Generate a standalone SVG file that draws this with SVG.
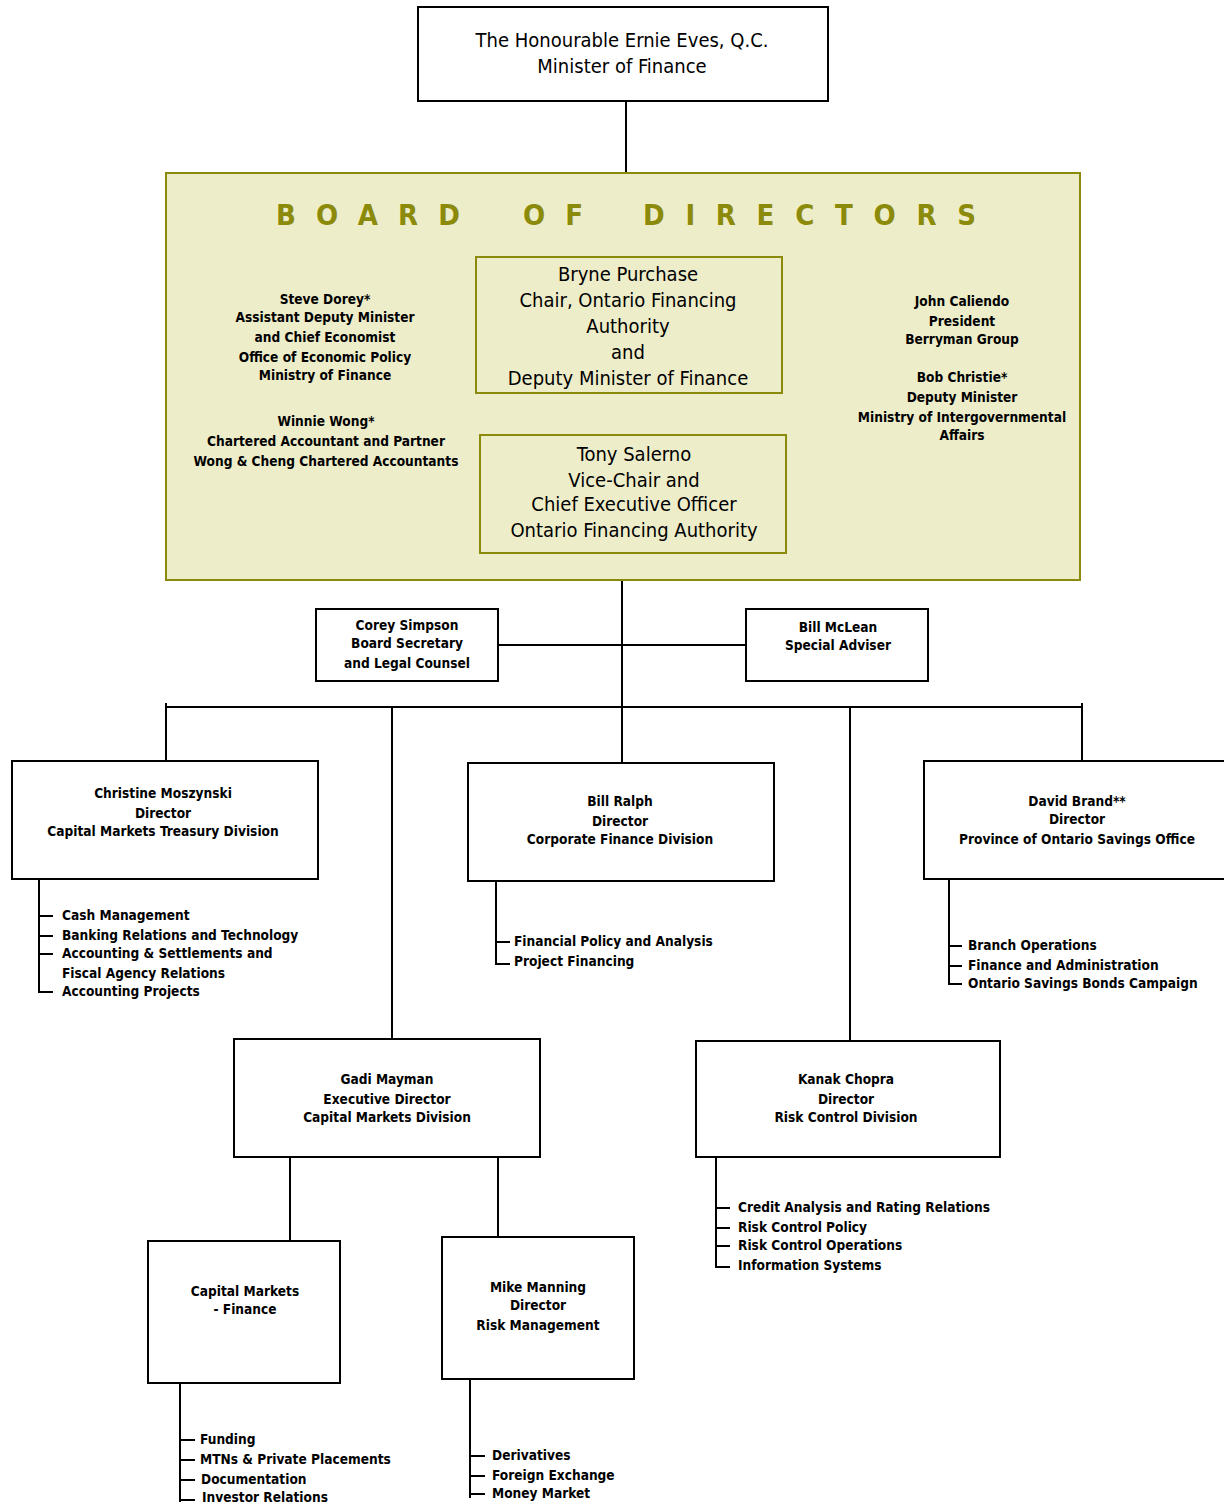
<svg xmlns="http://www.w3.org/2000/svg" width="1224" height="1504" viewBox="0 0 1224 1504">
<style>
.box{fill:#fff;stroke:#000;stroke-width:2}
.bbox{fill:#EDEDCA;stroke:#8C8A0A;stroke-width:2}
.ln{stroke:#000;stroke-width:2;fill:none}
.oln{stroke:#8C8A0A;stroke-width:2;fill:none}
text{font-family:"Liberation Sans Narrow","DejaVu Sans Condensed","Liberation Sans",sans-serif;fill:#000}
.big{font-size:20px;text-anchor:middle}
.sm{font-size:13.6px;font-weight:bold;text-anchor:middle}
.li{font-size:13.6px;font-weight:bold}
.title{font-size:29px;font-weight:bold;fill:#8C8A0A}
</style>
<rect width="1224" height="1504" fill="#fff"/>
<g id="connectors">
<line class="ln" x1="626" y1="101" x2="626" y2="173"/>
<line class="oln" x1="626" y1="393" x2="626" y2="435"/>
<line class="ln" x1="622" y1="553" x2="622" y2="763"/>
<line class="ln" x1="498" y1="645" x2="746" y2="645"/>
<line class="ln" x1="165" y1="707" x2="1083" y2="707"/>
<line class="ln" x1="166" y1="703" x2="166" y2="761"/>
<line class="ln" x1="392" y1="707" x2="392" y2="1039"/>
<line class="ln" x1="850" y1="707" x2="850" y2="1041"/>
<line class="ln" x1="1082" y1="703" x2="1082" y2="761"/>
<line class="ln" x1="290" y1="1157" x2="290" y2="1241"/>
<line class="ln" x1="498" y1="1157" x2="498" y2="1237"/>
<path class="ln" d="M39 879V993M38 916H53M38 936H53M38 954H53M38 992H53"/>
<path class="ln" d="M496 881V965M495 942H510M495 964H510"/>
<path class="ln" d="M949 879V985M948 946H962M948 966H962M948 984H962"/>
<path class="ln" d="M716 1157V1268M715 1208H730M715 1228H730M715 1246H730M715 1267H730"/>
<path class="ln" d="M180 1383V1502M179 1440H195M179 1460H195M179 1480H195M179 1500H195"/>
<path class="ln" d="M470 1379V1498M469 1456H485M469 1476H485M469 1494H485"/>
</g>
<g id="minister">
<rect class="box" x="418" y="7" width="410" height="94"/>
<text class="big" x="622" y="47">The Honourable Ernie Eves, Q.C.</text>
<text class="big" x="622" y="73">Minister of Finance</text>
</g>
<g id="board">
<rect class="bbox" x="166" y="173" width="914" height="407"/>
<text class="title" x="276" y="225" textLength="184" lengthAdjust="spacing">BOARD</text>
<text class="title" x="523" y="225" textLength="60" lengthAdjust="spacing">OF</text>
<text class="title" x="643" y="225" textLength="333" lengthAdjust="spacing">DIRECTORS</text>
<text class="sm" x="325" y="304">Steve Dorey*</text>
<text class="sm" x="325" y="322">Assistant Deputy Minister</text>
<text class="sm" x="325" y="342">and Chief Economist</text>
<text class="sm" x="325" y="362">Office of Economic Policy</text>
<text class="sm" x="325" y="380">Ministry of Finance</text>
<text class="sm" x="326" y="426">Winnie Wong*</text>
<text class="sm" x="326" y="446">Chartered Accountant and Partner</text>
<text class="sm" x="326" y="466">Wong &amp; Cheng Chartered Accountants</text>
<text class="sm" x="962" y="306">John Caliendo</text>
<text class="sm" x="962" y="326">President</text>
<text class="sm" x="962" y="344">Berryman Group</text>
<text class="sm" x="962" y="382">Bob Christie*</text>
<text class="sm" x="962" y="402">Deputy Minister</text>
<text class="sm" x="962" y="422">Ministry of Intergovernmental</text>
<text class="sm" x="962" y="440">Affairs</text>
</g>
<g id="purchase">
<rect class="bbox" x="476" y="257" width="306" height="136"/>
<text class="big" x="628" y="281">Bryne Purchase</text>
<text class="big" x="628" y="307">Chair, Ontario Financing</text>
<text class="big" x="628" y="333">Authority</text>
<text class="big" x="628" y="359">and</text>
<text class="big" x="628" y="385">Deputy Minister of Finance</text>
</g>
<g id="salerno">
<rect class="bbox" x="480" y="435" width="306" height="118"/>
<text class="big" x="634" y="461">Tony Salerno</text>
<text class="big" x="634" y="487">Vice-Chair and</text>
<text class="big" x="634" y="511">Chief Executive Officer</text>
<text class="big" x="634" y="537">Ontario Financing Authority</text>
</g>
<g id="simpson">
<rect class="box" x="316" y="609" width="182" height="72"/>
<text class="sm" x="407" y="630">Corey Simpson</text>
<text class="sm" x="407" y="648">Board Secretary</text>
<text class="sm" x="407" y="668">and Legal Counsel</text>
</g>
<g id="mclean">
<rect class="box" x="746" y="609" width="182" height="72"/>
<text class="sm" x="838" y="632">Bill McLean</text>
<text class="sm" x="838" y="650">Special Adviser</text>
</g>
<g id="moszynski">
<rect class="box" x="12" y="761" width="306" height="118"/>
<text class="sm" x="163" y="798">Christine Moszynski</text>
<text class="sm" x="163" y="818">Director</text>
<text class="sm" x="163" y="836">Capital Markets Treasury Division</text>
<text class="li" x="62" y="920">Cash Management</text>
<text class="li" x="62" y="940">Banking Relations and Technology</text>
<text class="li" x="62" y="958">Accounting &amp; Settlements and</text>
<text class="li" x="62" y="978">Fiscal Agency Relations</text>
<text class="li" x="62" y="996">Accounting Projects</text>
</g>
<g id="ralph">
<rect class="box" x="468" y="763" width="306" height="118"/>
<text class="sm" x="620" y="806">Bill Ralph</text>
<text class="sm" x="620" y="826">Director</text>
<text class="sm" x="620" y="844">Corporate Finance Division</text>
<text class="li" x="514" y="946">Financial Policy and Analysis</text>
<text class="li" x="514" y="966">Project Financing</text>
</g>
<g id="brand">
<rect class="box" x="924" y="761" width="310" height="118"/>
<text class="sm" x="1077" y="806">David Brand**</text>
<text class="sm" x="1077" y="824">Director</text>
<text class="sm" x="1077" y="844">Province of Ontario Savings Office</text>
<text class="li" x="968" y="950">Branch Operations</text>
<text class="li" x="968" y="970">Finance and Administration</text>
<text class="li" x="968" y="988">Ontario Savings Bonds Campaign</text>
</g>
<g id="mayman">
<rect class="box" x="234" y="1039" width="306" height="118"/>
<text class="sm" x="387" y="1084">Gadi Mayman</text>
<text class="sm" x="387" y="1104">Executive Director</text>
<text class="sm" x="387" y="1122">Capital Markets Division</text>
</g>
<g id="chopra">
<rect class="box" x="696" y="1041" width="304" height="116"/>
<text class="sm" x="846" y="1084">Kanak Chopra</text>
<text class="sm" x="846" y="1104">Director</text>
<text class="sm" x="846" y="1122">Risk Control Division</text>
<text class="li" x="738" y="1212">Credit Analysis and Rating Relations</text>
<text class="li" x="738" y="1232">Risk Control Policy</text>
<text class="li" x="738" y="1250">Risk Control Operations</text>
<text class="li" x="738" y="1270">Information Systems</text>
</g>
<g id="cmfinance">
<rect class="box" x="148" y="1241" width="192" height="142"/>
<text class="sm" x="245" y="1296">Capital Markets</text>
<text class="sm" x="245" y="1314">- Finance</text>
<text class="li" x="200" y="1444">Funding</text>
<text class="li" x="200" y="1464">MTNs &amp; Private Placements</text>
<text class="li" x="201" y="1484">Documentation</text>
<text class="li" x="202" y="1502">Investor Relations</text>
</g>
<g id="manning">
<rect class="box" x="442" y="1237" width="192" height="142"/>
<text class="sm" x="538" y="1292">Mike Manning</text>
<text class="sm" x="538" y="1310">Director</text>
<text class="sm" x="538" y="1330">Risk Management</text>
<text class="li" x="492" y="1460">Derivatives</text>
<text class="li" x="492" y="1480">Foreign Exchange</text>
<text class="li" x="492" y="1498">Money Market</text>
</g>
</svg>
